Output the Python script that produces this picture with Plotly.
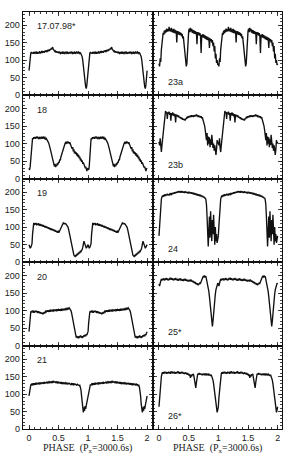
import plotly.graph_objects as go

# ---------------- data (one folded cycle, phase 0.00 .. 0.99, step 0.01) ----------------
PHASE_STEP = 0.01

labels_left = ["17.07.98*", "18", "19", "20", "21"]
labels_right = ["23a", "23b", "24", "25*", "26*"]

obs_17 = [70, 95, 112, 120, 123, 119, 122, 118, 123, 121,
          119, 124, 120, 122, 118, 123, 120, 121, 125, 119,
          122, 124, 120, 126, 122, 125, 121, 127, 124, 128,
          123, 126, 129, 125, 130, 128, 132, 129, 135, 133,
          137, 131, 129, 127, 124, 126, 122, 125, 121, 124,
          120, 123, 121, 119, 123, 120, 122, 118, 122, 120,
          123, 119, 121, 124, 120, 122, 118, 121, 123, 119,
          122, 120, 124, 121, 119, 123, 120, 122, 118, 121,
          123, 119, 122, 120, 123, 121, 119, 122, 118, 115,
          110, 100, 88, 72, 55, 38, 24, 19, 30, 50]

obs_18 = [30, 25, 35, 60, 95, 112, 116, 113, 118, 115,
          119, 114, 117, 120, 115, 118, 116, 113, 117, 115,
          119, 116, 118, 114, 117, 119, 115, 117, 113, 115,
          112, 110, 106, 103, 98, 94, 85, 78, 70, 60,
          52, 45, 40, 35, 42, 33, 40, 36, 44, 40,
          48, 45, 55, 52, 62, 68, 74, 80, 88, 93,
          98, 100, 103, 101, 104, 102, 105, 103, 101, 104,
          100, 97, 92, 85, 90, 78, 84, 72, 78, 70,
          75, 66, 72, 62, 68, 58, 63, 52, 57, 48,
          52, 42, 46, 38, 40, 32, 34, 26, 22, 28]

obs_19 = [50, 45, 40, 42, 48, 52, 80, 108, 112, 106,
          111, 108, 112, 105, 110, 107, 111, 104, 109, 106,
          108, 103, 107, 102, 106, 101, 104, 99, 103, 98,
          102, 97, 100, 95, 99, 94, 97, 92, 96, 91,
          95, 90, 93, 88, 92, 87, 90, 85, 89, 84,
          88, 86, 90, 96, 101, 105, 108, 110, 112, 110,
          111, 109, 110, 108, 106, 104, 100, 94, 86, 76,
          66, 56, 46, 38, 30, 24, 20, 18, 16, 19,
          18, 22, 21, 25, 24, 28, 27, 31, 30, 34,
          36, 42, 50, 60, 55, 48, 42, 40, 43, 48]

obs_20 = [40, 65, 88, 96, 99, 95, 100, 96, 98, 94,
          99, 96, 100, 95, 97, 93, 98, 95, 97, 92,
          95, 91, 94, 90, 93, 91, 96, 94, 98, 96,
          100, 97, 101, 98, 100, 97, 101, 99, 102, 98,
          101, 99, 102, 100, 103, 99, 102, 100, 104, 101,
          103, 100, 104, 101, 103, 100, 104, 102, 105, 102,
          104, 101, 105, 103, 106, 104, 107, 105, 108, 106,
          104, 100, 94, 85, 74, 62, 50, 40, 32, 27,
          23, 28, 22, 26, 21, 27, 23, 29, 24, 28,
          22, 27, 24, 30, 26, 31, 27, 33, 30, 36]

obs_21 = [95, 108, 120, 126, 128, 125, 129, 127, 131, 128,
          130, 127, 131, 129, 132, 128, 131, 129, 133, 130,
          132, 129, 133, 130, 134, 131, 133, 130, 134, 131,
          135, 132, 134, 131, 135, 133, 136, 132, 135, 133,
          137, 134, 136, 133, 136, 132, 135, 133, 136, 132,
          134, 131, 134, 130, 133, 131, 134, 130, 132, 129,
          133, 130, 132, 128, 131, 129, 132, 128, 131, 129,
          130, 127, 130, 128, 131, 127, 129, 126, 129, 127,
          128, 125, 128, 126, 127, 124, 125, 120, 112, 95,
          72, 55, 48, 62, 52, 66, 58, 68, 78, 88]

obs_23a = [90, 82, 105, 95, 130, 150, 170, 178, 172, 184,
           176, 186, 179, 190, 181, 188, 182, 195, 183, 190,
           181, 192, 180, 188, 178, 189, 177, 186, 176, 184,
           150, 183, 174, 182, 172, 180, 171, 178, 168, 175,
           162, 168, 150, 135, 115, 95, 82, 90, 130, 165,
           182, 190, 180, 192, 182, 189, 178, 186, 176, 185,
           175, 183, 174, 181, 145, 180, 172, 179, 170, 177,
           168, 120, 172, 165, 174, 164, 172, 162, 170, 160,
           168, 158, 166, 156, 164, 135, 162, 154, 160, 150,
           157, 140, 150, 125, 140, 105, 118, 92, 100, 86]

obs_23b = [105, 95, 115, 88, 76, 95, 110, 130, 150, 168,
           185, 193, 188, 190, 170, 189, 185, 191, 182, 188,
           165, 187, 181, 189, 180, 186, 178, 184, 160, 183,
           178, 182, 176, 180, 174, 177, 172, 175, 170, 173,
           168, 171, 167, 170, 166, 172, 170, 176, 172, 178,
           174, 179, 175, 180, 176, 181, 177, 180, 176, 181,
           177, 182, 178, 183, 178, 182, 176, 180, 175, 179,
           174, 178, 172, 175, 168, 170, 160, 150, 138, 125,
           110, 130, 95, 120, 100, 118, 90, 112, 96, 125,
           105, 88, 100, 80, 95, 72, 68, 85, 110, 100]

obs_24 = [75, 105, 140, 165, 180, 186, 190, 186, 192, 188,
          194, 189, 193, 190, 195, 191, 194, 190, 196, 192,
          195, 193, 197, 194, 198, 195, 199, 196, 200, 197,
          201, 198, 202, 199, 203, 199, 202, 198, 203, 199,
          202, 198, 201, 197, 202, 198, 201, 197, 200, 196,
          201, 197, 200, 196, 199, 195, 199, 194, 198, 193,
          197, 192, 196, 191, 195, 190, 194, 189, 193, 188,
          192, 187, 190, 186, 189, 184, 187, 182, 184, 178,
          165, 130, 75, 45, 90, 130, 70, 145, 95, 60,
          120, 80, 135, 70, 50, 100, 60, 80, 55, 65]

obs_25 = [176, 170, 178, 184, 190, 186, 191, 187, 192, 186,
          191, 187, 193, 188, 192, 186, 190, 187, 193, 189,
          194, 188, 192, 187, 191, 186, 192, 188, 193, 187,
          191, 186, 190, 185, 191, 187, 192, 186, 190, 185,
          189, 184, 190, 186, 191, 185, 189, 184, 188, 183,
          187, 184, 188, 183, 187, 186, 182, 185, 180, 183,
          178, 182, 176, 179, 174, 178, 172, 177, 175, 180,
          178, 184, 188, 192, 196, 199, 194, 200, 195, 198,
          190, 185, 176, 168, 155, 140, 120, 100, 80, 62,
          55, 70, 95, 118, 135, 148, 160, 168, 172, 178]

obs_26 = [64, 90, 115, 135, 150, 158, 162, 158, 163, 159,
          164, 160, 163, 158, 162, 159, 164, 160, 163, 158,
          162, 160, 165, 159, 163, 160, 164, 158, 162, 159,
          163, 160, 165, 161, 163, 158, 162, 159, 164, 160,
          163, 158, 161, 157, 162, 158, 161, 156, 160, 155,
          158, 152, 156, 146, 155, 150, 157, 154, 158, 150,
          140, 128, 118, 132, 148, 155, 159, 155, 160, 156,
          159, 155, 158, 154, 158, 155, 159, 154, 157, 155,
          159, 154, 158, 155, 157, 153, 156, 152, 155, 150,
          148, 140, 130, 115, 100, 82, 65, 52, 48, 55]

left_series = [obs_17, obs_18, obs_19, obs_20, obs_21]
right_series = [obs_23a, obs_23b, obs_24, obs_25, obs_26]

x_tick_vals = [0, 0.5, 1, 1.5, 2]
x_tick_text = ["0", "0.5", "1", "1.5", "2"]
y_tick_vals = [0, 50, 100, 150, 200]
y_tick_text = ["0", "50", "100", "150", "200"]
x_title = "PHASE  (P<sub>x</sub>=3000.6s)"

# ---------------- layout geometry ----------------
W, H = 288, 467
col_px = [(22.7, 153.0), (153.0, 282.0)]
x_ranges = [[-0.107, 2.10], [-0.101, 2.073]]
top_px = 11.7
panel_h = 83.5
y_range = [0, 238]

TICKFONT = dict(family="Liberation Sans, Arial, sans-serif", size=9, color="#222")
LABELFONT = dict(family="Liberation Sans, Arial, sans-serif", size=9, color="#222")

fig = go.Figure()
layout = dict(width=W, height=H, margin=dict(l=0, r=0, t=0, b=0, autoexpand=False),
              template="none",
              plot_bgcolor="white", paper_bgcolor="white", showlegend=False)
annotations = []

n_pts = len(obs_17)
base_phase = [round(i * PHASE_STEP, 4) for i in range(n_pts)]

idx = 0
for c in range(2):
    series = left_series if c == 0 else right_series
    labels = labels_left if c == 0 else labels_right
    for r in range(5):
        idx += 1
        vals = series[r]
        xs = base_phase + [p + 1 for p in base_phase] + [2.0]
        ys = vals + vals + [vals[0]]
        sfx = "" if idx == 1 else str(idx)
        fig.add_trace(go.Scatter(x=xs, y=ys, mode="lines",
                                 line=dict(color="#111111", width=1.35),
                                 xaxis="x" + sfx, yaxis="y" + sfx,
                                 hoverinfo="skip"))
        t = top_px + panel_h * r
        b = t + panel_h
        x0, x1 = col_px[c]
        layout["xaxis" + sfx] = dict(
            domain=[x0 / W, x1 / W], range=x_ranges[c], anchor="y" + sfx,
            automargin=False,
            showline=True, linecolor="#111", linewidth=1, mirror="allticks",
            ticks="inside", ticklen=4, tickwidth=0.8, tickcolor="#111",
            tickvals=x_tick_vals, ticktext=x_tick_text,
            showticklabels=(r == 4), tickfont=TICKFONT,
            minor=dict(ticks="inside", ticklen=2, tickwidth=0.8, tickcolor="#111",
                       dtick=0.1, tick0=0, showgrid=False),
            showgrid=False, zeroline=False, fixedrange=True)
        layout["yaxis" + sfx] = dict(
            domain=[1 - b / H, 1 - t / H], range=y_range, anchor="x" + sfx,
            automargin=False,
            showline=True, linecolor="#111", linewidth=1, mirror="allticks",
            ticks="inside", ticklen=4, tickwidth=0.8, tickcolor="#111",
            tickvals=y_tick_vals, ticktext=y_tick_text,
            showticklabels=(c == 0), tickfont=TICKFONT,
            minor=dict(ticks="inside", ticklen=2, tickwidth=0.8, tickcolor="#111",
                       dtick=10, tick0=0, showgrid=False),
            showgrid=False, zeroline=False, fixedrange=True)
        if c == 0:
            annotations.append(dict(x=0.1, y=196, xref="x" + sfx, yref="y" + sfx,
                                    text=labels[r], showarrow=False,
                                    xanchor="left", yanchor="middle", font=LABELFONT))
        else:
            annotations.append(dict(x=0.12, y=38, xref="x" + sfx, yref="y" + sfx,
                                    text=labels[r], showarrow=False,
                                    xanchor="left", yanchor="middle", font=LABELFONT))

for c in range(2):
    x0, x1 = col_px[c]
    annotations.append(dict(x=(x0 + x1) / 2 / W, y=1 - 448 / H, xref="paper", yref="paper",
                            text=x_title, showarrow=False, xanchor="center", yanchor="middle",
                            font=dict(family="Liberation Serif, Times New Roman, serif",
                                      size=10, color="#222")))

layout["annotations"] = annotations
fig.update_layout(**layout)
fig.write_html("out.html",
               config={"displayModeBar": False, "staticPlot": True},
               post_script="document.body.style.margin='0';"
                           "document.body.style.overflow='hidden';"
                           "document.documentElement.style.overflow='hidden';")
